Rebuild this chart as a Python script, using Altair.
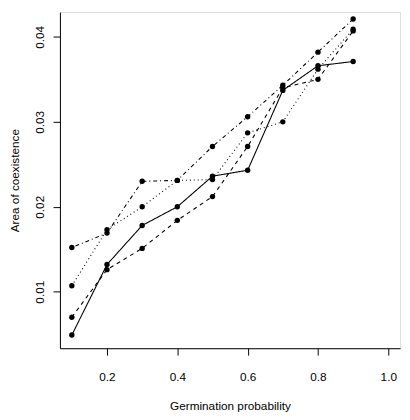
import altair as alt
import pandas as pd

germination = [0.1, 0.2, 0.3, 0.4, 0.5, 0.6, 0.7, 0.8, 0.9]
series_solid = [0.0049, 0.0132, 0.0178, 0.0200, 0.0236, 0.0243, 0.0337, 0.0366, 0.0371]
series_dashed = [0.0070, 0.0126, 0.0151, 0.0184, 0.0212, 0.0271, 0.0340, 0.0350, 0.0407]
series_dotted = [0.0107, 0.0173, 0.0200, 0.0231, 0.0232, 0.0287, 0.0300, 0.0362, 0.0409]
series_dotdash = [0.0152, 0.0169, 0.0230, 0.0231, 0.0271, 0.0306, 0.0343, 0.0382, 0.0421]

x_ticks = [0.2, 0.4, 0.6, 0.8, 1.0]
y_ticks = [0.01, 0.02, 0.03, 0.04]

names = ["solid", "dashed", "dotted", "dotdash"]
rows = []
for name, vals in zip(names, [series_solid, series_dashed, series_dotted, series_dotdash]):
    for g, v in zip(germination, vals):
        rows.append({"g": g, "area": v, "series": name})
df = pd.DataFrame(rows)

FONT = "Liberation Sans"

x_enc = alt.X(
    "g:Q",
    scale=alt.Scale(domain=[0.0662, 1.0334], nice=False, zero=False),
    axis=alt.Axis(
        values=x_ticks, format=".1f", title="Germination probability",
        grid=False, domainColor="black", tickColor="black", tickSize=7,
        labelPadding=17, titlePadding=19, labelFont=FONT, titleFont=FONT,
        labelFontSize=12, titleFontSize=12, titleFontWeight="normal",
        labelColor="black", titleColor="black", labelFlush=False,
    ),
)
y_enc = alt.Y(
    "area:Q",
    scale=alt.Scale(domain=[0.003346, 0.04292], nice=False, zero=False),
    axis=alt.Axis(
        values=y_ticks, format=".2f", title="Area of coexistence",
        grid=False, domainColor="black", tickColor="black", tickSize=7,
        labelAngle=270, labelAlign="center", labelBaseline="bottom",
        labelPadding=7, titlePadding=12, labelFont=FONT, titleFont=FONT,
        labelFontSize=12, titleFontSize=12, titleFontWeight="normal",
        labelColor="black", titleColor="black", labelFlush=False,
    ),
)

lines = alt.Chart(df).mark_line(color="black", strokeWidth=1.1).encode(
    x=x_enc,
    y=y_enc,
    strokeDash=alt.StrokeDash(
        "series:N",
        scale=alt.Scale(domain=names, range=[[1, 0], [4, 4], [1, 3], [1, 3, 4, 3]]),
        legend=None,
    ),
    detail="series:N",
)

points = alt.Chart(df).mark_circle(color="black", opacity=1, size=30).encode(
    x=x_enc, y=y_enc
)

chart = alt.layer(lines, points).properties(
    width=347,
    height=343,
    autosize=alt.AutoSizeParams(type="none"),
    padding={"left": 53, "top": 0, "right": 2, "bottom": 66},
).configure_view(stroke=None).configure(background="white")

chart.save("out.html", embed_options={"renderer": "svg", "actions": False})
